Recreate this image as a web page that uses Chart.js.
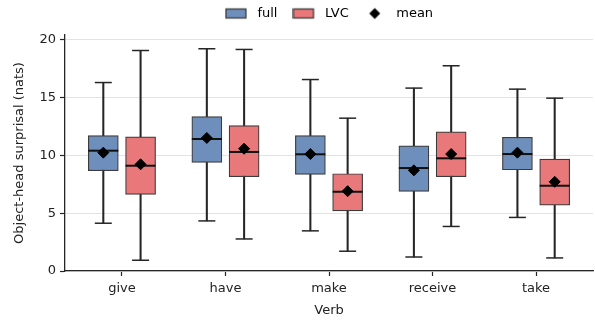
<!DOCTYPE html>
<html>
<head>
<meta charset="utf-8">
<script src="https://cdn.jsdelivr.net/npm/chart.js@4.4.1/dist/chart.umd.min.js"></script>
<style>
  html, body { margin: 0; padding: 0; background: #fff; }
  #wrap { width: 595px; height: 322px; }
</style>
</head>
<body>
<div id="wrap"><canvas id="chart" width="595" height="322"></canvas></div>
<script>
"use strict";

// Data
const verbs = ['give', 'have', 'make', 'receive', 'take'];

const fullMin  = [4.13, 4.33, 3.47, 1.21, 4.63];
const fullQ1   = [8.67, 9.39, 8.35, 6.88, 8.75];
const fullMed  = [10.40, 11.41, 10.09, 8.90, 10.11];
const fullQ3   = [11.70, 13.35, 11.70, 10.81, 11.56];
const fullMax  = [16.29, 19.21, 16.55, 15.81, 15.72];
const fullMean = [10.23, 11.50, 10.11, 8.70, 10.23];

const lvcMin  = [0.93, 2.77, 1.71, 3.85, 1.13];
const lvcQ1   = [6.62, 8.15, 5.20, 8.15, 5.69];
const lvcMed  = [9.10, 10.29, 6.85, 9.74, 7.37];
const lvcQ3   = [11.59, 12.57, 8.41, 12.02, 9.68];
const lvcMax  = [19.06, 19.15, 13.21, 17.74, 14.94];
const lvcMean = [9.22, 10.57, 6.90, 10.11, 7.71];

const yTicks = [0, 5, 10, 15, 20];

// Colours
var fullColor = '#6e8fbb';
var lvcColor = '#e8787a';
var edgeColor = '#3c3c3c';
var lineColor = '#262626';
var textColor = '#222222';
var fontFamily = '"DejaVu Sans", sans-serif';

var groupOffset = 0.18; // side-by-side shift of the two groups

const at = (values, shift, fn) => values.map((v, i) => ({ x: i + shift, y: fn ? fn(i) : v }));

// Legend handles drawn into tiny canvases
const legendPatch = (fill) => {
    const c = document.createElement('canvas');
    c.width = 26; c.height = 14;
    const ctx = c.getContext('2d');
    ctx.fillStyle = fill;
    ctx.strokeStyle = edgeColor;
    ctx.lineWidth = 1.3;
    ctx.fillRect(1, 2.5, 20, 9);
    ctx.strokeRect(1, 2.5, 20, 9);
    return c;
};
const legendDiamond = () => {
    const c = document.createElement('canvas');
    c.width = 26; c.height = 14;
    const ctx = c.getContext('2d');
    ctx.fillStyle = '#000';
    ctx.beginPath();
    ctx.moveTo(11, 1.5); ctx.lineTo(16.5, 7); ctx.lineTo(11, 12.5); ctx.lineTo(5.5, 7);
    ctx.closePath();
    ctx.fill();
    return c;
};

// a bit more room under the legend
const legendTweak = {
    id: 'legendTweak',
    beforeInit: (chart) => {
        const fitLegend = chart.legend.fit;
        chart.legend.fit = function () {
            fitLegend.bind(chart.legend)();
            this.height += 5;
        };
    }
};

const datasets = [
    // means (top)
    { type: 'scatter', label: 'mean', order: 0, data: at(fullMean, -groupOffset).concat(at(lvcMean, groupOffset)),
      pointStyle: 'rectRot', radius: 5.5, backgroundColor: '#000', borderColor: '#000', borderWidth: 1 },
    // medians
    { type: 'scatter', label: 'median', order: 1, data: at(fullMed, -groupOffset).concat(at(lvcMed, groupOffset)),
      pointStyle: 'line', radius: 15, borderColor: '#111', borderWidth: 2 },
    // boxes
    { type: 'bar', label: 'full', order: 2, data: at(fullQ1, -groupOffset, i => [fullQ1[i], fullQ3[i]]),
      backgroundColor: fullColor, borderColor: edgeColor, borderWidth: 1.2, borderSkipped: false, barThickness: 30, grouped: false },
    { type: 'bar', label: 'LVC', order: 2, data: at(lvcQ1, groupOffset, i => [lvcQ1[i], lvcQ3[i]]),
      backgroundColor: lvcColor, borderColor: edgeColor, borderWidth: 1.2, borderSkipped: false, barThickness: 30, grouped: false },
    // whisker caps
    { type: 'scatter', label: 'caps', order: 3,
      data: at(fullMin, -groupOffset).concat(at(fullMax, -groupOffset), at(lvcMin, groupOffset), at(lvcMax, groupOffset)),
      pointStyle: 'line', radius: 8.5, borderColor: lineColor, borderWidth: 1.5 },
    // whiskers
    { type: 'bar', label: 'whiskers', order: 4,
      data: at(fullMin, -groupOffset, i => [fullMin[i], fullMax[i]]).concat(at(lvcMin, groupOffset, i => [lvcMin[i], lvcMax[i]])),
      backgroundColor: lineColor, borderWidth: 0, barThickness: 1.4, grouped: false }
];

var config = {
    type: 'bar',
    data: { datasets: datasets },
    plugins: [legendTweak],
    options: {
        responsive: false,
        animation: false,
        events: [],
        layout: { autoPadding: false, padding: { left: 0, right: 2, top: -8, bottom: 0 } },
        plugins: {
            tooltip: { enabled: false },
            legend: {
                display: true,
                position: 'top',
                fullSize: false,
                labels: {
                    usePointStyle: true,
                    pointStyleWidth: 26,
                    boxHeight: 13,
                    padding: 15,
                    color: textColor,
                    font: { family: fontFamily, size: 13 },
                    generateLabels: () => [
                        { text: 'full', pointStyle: legendPatch(fullColor), fillStyle: fullColor, strokeStyle: edgeColor, lineWidth: 0, datasetIndex: 2 },
                        { text: 'LVC', pointStyle: legendPatch(lvcColor), fillStyle: lvcColor, strokeStyle: edgeColor, lineWidth: 0, datasetIndex: 3 },
                        { text: 'mean', pointStyle: legendDiamond(), fillStyle: '#000', strokeStyle: '#000', lineWidth: 0, datasetIndex: 0 }
                    ]
                }
            }
        },
        scales: {
            x: {
                type: 'linear',
                min: -0.55,
                max: 4.55,
                offset: false,
                afterBuildTicks: (scale) => { scale.ticks = verbs.map((v, i) => ({ value: i })); },
                afterFit: (scale) => {
                    scale.height = 51;
                    scale.paddingLeft = 0;
                    scale.paddingRight = 0;
                },
                ticks: {
                    callback: (value) => verbs[value],
                    color: textColor,
                    padding: 5,
                    font: { family: fontFamily, size: 13 },
                    maxRotation: 0
                },
                grid: { offset: false, drawOnChartArea: false, tickLength: 5, tickColor: lineColor, tickWidth: 1.2 },
                border: { color: lineColor, width: 1.3 },
                title: { display: true, text: 'Verb', color: textColor, font: { family: fontFamily, size: 13 }, padding: { top: 2, bottom: 4 } }
            },
            y: {
                type: 'linear',
                min: 0,
                max: 20.4,
                afterBuildTicks: (scale) => { scale.ticks = yTicks.map(v => ({ value: v })); },
                afterFit: (scale) => { scale.width = 65; },
                ticks: {
                    color: textColor,
                    padding: 4,
                    font: { family: fontFamily, size: 13 }
                },
                grid: { color: '#e3e3e3', lineWidth: 1, tickLength: 5, tickColor: lineColor, tickWidth: 1.2 },
                border: { color: lineColor, width: 1.3 },
                title: { display: true, text: 'Object-head surprisal (nats)', color: textColor, font: { family: fontFamily, size: 13 }, padding: { top: 12, bottom: 4 } }
            }
        }
    }
};

var ctx = document.getElementById('chart').getContext('2d');
new Chart(ctx, config);
</script>
</body>
</html>
